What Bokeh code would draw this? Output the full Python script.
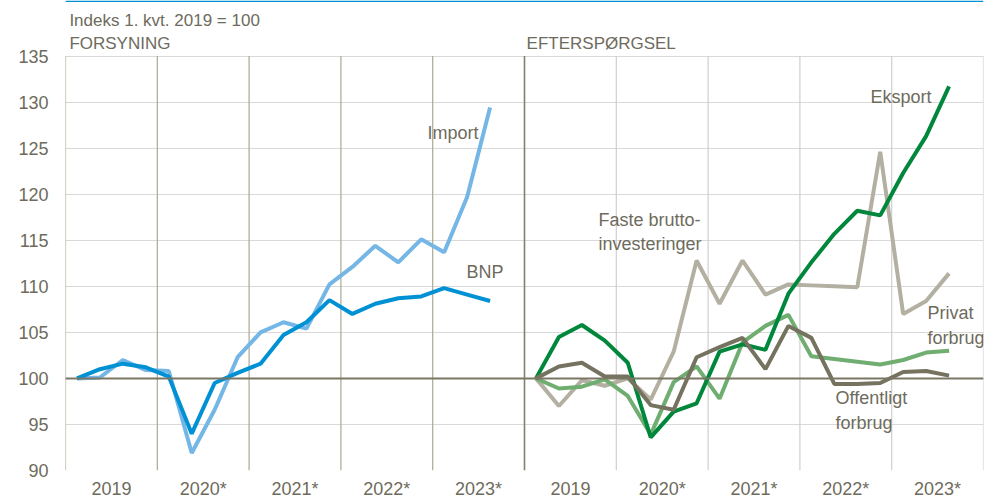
from bokeh.plotting import figure
from bokeh.models import FixedTicker, Span, Label, BoxAnnotation
from bokeh.embed import file_html
from bokeh.resources import INLINE

# ---- data (index, Q1 2019 = 100), quarterly 2019Q1 .. 2023Q3 ----
years = ["2019", "2020*", "2021*", "2022*", "2023*"]
bnp = [100.0, 101.0, 101.6, 101.2, 100.2, 94.0, 99.5, 100.6, 101.6, 104.7,
       106.1, 108.5, 107.0, 108.1, 108.7, 108.9, 109.8, 109.1, 108.4]
imp = [100.0, 100.1, 102.0, 100.9, 100.8, 91.9, 96.6, 102.3, 105.0, 106.1,
       105.4, 110.2, 112.1, 114.4, 112.6, 115.1, 113.7, 119.7, 129.4]
eksport = [100.0, 104.5, 105.8, 104.1, 101.7, 93.6, 96.4, 97.3, 102.9, 103.7,
           103.1, 109.2, 112.6, 115.7, 118.2, 117.7, 122.3, 126.3, 131.7]
faste = [100.0, 97.0, 99.8, 99.2, 100.0, 97.7, 102.9, 112.8, 108.1, 112.8,
         109.1, 110.2, 110.1, 110.0, 109.9, 124.6, 107.0, 108.4, 111.4]
privat = [100.0, 98.9, 99.1, 99.9, 98.1, 93.9, 99.6, 101.3, 97.8, 103.9,
          105.7, 106.9, 102.4, 102.1, 101.8, 101.5, 102.0, 102.8, 103.0]
offentligt = [100.0, 101.3, 101.7, 100.2, 100.2, 97.1, 96.6, 102.3, 103.4, 104.4,
              101.0, 105.7, 104.4, 99.4, 99.4, 99.5, 100.7, 100.8, 100.3]

y_ticks = list(range(90, 136, 5))
year_bounds_left = [0, 4, 8, 12, 16]
year_bounds_right = [24, 28, 32, 36, 40]

n_q = len(bnp)
x_left = [i + 0.5 for i in range(n_q)]
x_right = [20 + i + 0.5 for i in range(n_q)]

FONT = "Liberation Sans"
TXT = "#6e6b5d"
Y_TOP = 141.03

p = figure(width=991, height=501, x_range=(0, 40), y_range=(90, Y_TOP),
           output_backend="svg", toolbar_location=None,
           min_border_left=65, min_border_right=8, min_border_top=0,
           min_border_bottom=31)
p.outline_line_color = None
p.background_fill_color = "white"
p.border_fill_color = "white"

# axes
p.yaxis.ticker = FixedTicker(ticks=y_ticks)
p.yaxis.axis_line_color = None
p.yaxis.major_tick_line_color = None
p.yaxis.minor_tick_line_color = None
p.yaxis.major_tick_out = 0
p.yaxis.major_tick_in = 0
p.yaxis.minor_tick_out = 0
p.yaxis.major_label_text_font = FONT
p.yaxis.major_label_text_font_size = "18px"
p.yaxis.major_label_text_color = TXT
p.yaxis.major_label_standoff = 17

xt = [2 + 4 * k for k in range(10)]
p.xaxis.ticker = FixedTicker(ticks=xt)
p.xaxis.major_label_overrides = {t: years[k % 5] for k, t in enumerate(xt)}
p.xaxis.axis_line_color = None
p.xaxis.major_tick_line_color = None
p.xaxis.minor_tick_line_color = None
p.xaxis.major_tick_out = 0
p.xaxis.major_tick_in = 0
p.xaxis.minor_tick_out = 0
p.xaxis.major_label_text_font = FONT
p.xaxis.major_label_text_font_size = "18px"
p.xaxis.major_label_text_color = TXT
p.xaxis.major_label_standoff = 8

# grids
p.xgrid.grid_line_color = None
p.ygrid.ticker = FixedTicker(ticks=y_ticks)
p.ygrid.grid_line_color = "#d9d9d9"
p.ygrid.grid_line_width = 1.2

ymin, ymax = y_ticks[0], y_ticks[-1]
p.segment(x0=year_bounds_left, y0=[ymin] * 5, x1=year_bounds_left, y1=[ymax] * 5,
          line_color="#aca892", line_width=1.2)
p.segment(x0=year_bounds_right, y0=[ymin] * 5, x1=year_bounds_right, y1=[ymax] * 5,
          line_color="#cfcfcf", line_width=1.2)
p.segment(x0=[20], y0=[ymin], x1=[20], y1=[ymax], line_color="#857f6e", line_width=1.6)
p.add_layout(Span(location=100, dimension="width", line_color="#7a7664", line_width=2))

# top blue rule
p.add_layout(BoxAnnotation(bottom=Y_TOP - 0.16, fill_color="#0090d4", fill_alpha=1,
                           line_color=None))

LW = 4
p.line(x_left, imp, line_color="#74b6e6", line_width=LW)
p.line(x_left, bnp, line_color="#0091d5", line_width=LW)

p.line(x_right, faste, line_color="#b3b0a2", line_width=LW)
p.line(x_right, privat, line_color="#6fae70", line_width=LW)
p.line(x_right, eksport, line_color="#00873c", line_width=LW)
p.line(x_right, offentligt, line_color="#75725f", line_width=LW)

def lab(x, y, t, size="18px"):
    p.add_layout(Label(x=x, y=y, text=t, text_font=FONT, text_font_size=size,
                       text_color=TXT, text_baseline="middle", text_align="left"))

lab(0.17, 138.86, "Indeks 1. kvt. 2019 = 100", "17px")
lab(0.17, 136.36, "FORSYNING", "17px")
lab(20.09, 136.36, "EFTERSPØRGSEL", "17px")

lab(15.77, 126.6, "Import")
lab(17.47, 111.5, "BNP")
lab(35.08, 130.6, "Eksport")
lab(23.22, 117.2, "Faste brutto-")
lab(23.22, 114.55, "investeringer")
lab(37.56, 107.1, "Privat")
lab(37.56, 104.4, "forbrug")
lab(33.55, 97.9, "Offentligt")
lab(33.55, 95.2, "forbrug")

open("out.html", "w").write(file_html(p, INLINE))
